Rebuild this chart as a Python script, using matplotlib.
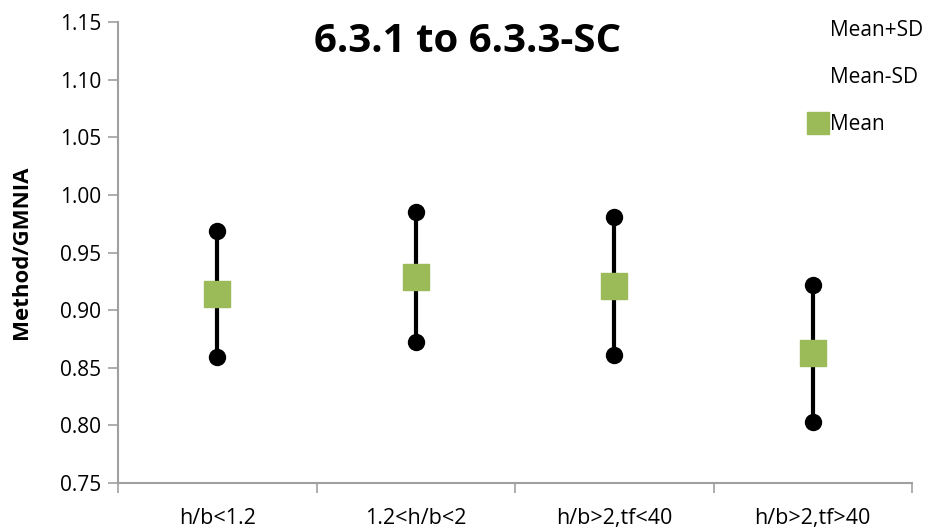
import matplotlib
matplotlib.use("Agg")
import matplotlib.pyplot as plt
from matplotlib.lines import Line2D
import numpy as np

# Data
categories = ["h/b<1.2", "1.2<h/b<2", "h/b>2,tf<40", "h/b>2,tf>40"]
mean_plus_sd = [0.969, 0.985, 0.981, 0.922]
mean_minus_sd = [0.859, 0.872, 0.861, 0.803]
mean = [0.914, 0.929, 0.921, 0.863]

plt.rcParams['font.family'] = ['Open Sans', 'DejaVu Sans']

fig = plt.figure(figsize=(9.38, 5.31), dpi=100)
# plot area: x 118..912, y 22..483 px
ax = fig.add_axes([118/938, 1-483/531, (912-118)/938, (483-22)/531])

x = np.arange(len(categories))
green = '#9bbb59'

ax.vlines(x, mean_minus_sd, mean_plus_sd, color='black', lw=3, zorder=2)
ax.plot(x, mean_plus_sd, 'o', color='black', ms=11.5, ls='none', zorder=3)
ax.plot(x, mean_minus_sd, 'o', color='black', ms=11.5, ls='none', zorder=3)
ax.plot(x, mean, 's', color=green, ms=18.5, ls='none', zorder=4)

ax.set_xlim(-0.5, len(categories) - 0.5)
ax.set_ylim(0.75, 1.15)
yt = np.arange(0.75, 1.151, 0.05)
ax.set_yticks(yt)
ax.set_yticklabels([f"{v:.2f}" for v in yt], fontsize=15)
ax.set_xticks(x)
ax.set_xticklabels(categories, fontsize=15.5)
ax.set_xticks(np.arange(-0.5, len(categories), 1), minor=True)
ax.tick_params(axis='x', which='major', length=0, pad=18)
ax.tick_params(axis='x', which='minor', length=7, color='#a0a0a0', width=1.2)
ax.tick_params(axis='y', length=7, color='#a0a0a0', width=1.2, pad=5)

for s in ['top', 'right']:
    ax.spines[s].set_visible(False)
for s in ['left', 'bottom']:
    ax.spines[s].set_color('#a0a0a0')
    ax.spines[s].set_linewidth(1.5)

ax.set_ylabel("Method/GMNIA", fontsize=16, fontweight='bold')
ax.yaxis.set_label_coords(-0.108, 0.5)
fig.text(468/938, 1-41/531, "6.3.1 to 6.3.3-SC", fontsize=29, fontweight='bold',
         ha='center', va='center')

handles = [Line2D([], [], ls='none'),
           Line2D([], [], ls='none'),
           Line2D([], [], marker='s', color=green, ls='none', ms=16)]
leg = fig.legend(handles, ["Mean+SD", "Mean-SD", "Mean"], loc='upper right',
                 bbox_to_anchor=(942/938, 1-1/531), frameon=False, fontsize=15,
                 labelspacing=1.25, handlelength=0.8, handletextpad=0.2)

fig.savefig("out.png", dpi=100)
